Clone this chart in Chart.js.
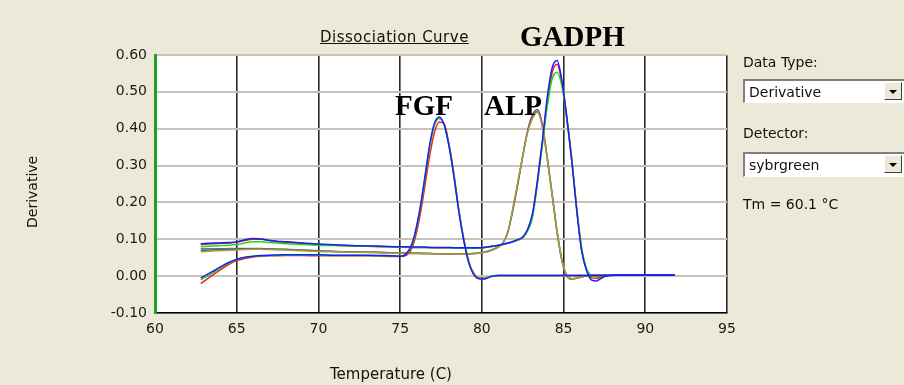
<!DOCTYPE html>
<html>
<head>
<meta charset="utf-8">
<script src="https://cdn.jsdelivr.net/npm/chart.js@4/dist/chart.umd.min.js"></script>
<style>
  body { margin: 0; background: #ece9d8; }
  #wrap { position: relative; width: 904px; height: 385px; overflow: hidden; font-family: "DejaVu Sans", sans-serif; color: #111; }
  .t { position: absolute; white-space: nowrap; font-size: 14px; line-height: 16px; }
  .big { position: absolute; white-space: nowrap; font-family: "Liberation Serif", serif; font-weight: bold; font-size: 29px; line-height: 29px; color: #000; }
  .box { position: absolute; left: 743px; width: 170px; background: #fff; border-top: 2px solid #808080; border-left: 2px solid #808080; border-bottom: 1px solid #fff; box-sizing: border-box; }
  .box span { position: absolute; left: 4px; top: 3px; font-size: 14px; line-height: 16px; }
  .btn { position: absolute; left: 139px; top: 1px; width: 18px; height: 18px; background: #ece9d8; border-right: 1px solid #404040; border-bottom: 1px solid #404040; border-top: 1px solid #fff; border-left: 1px solid #fff; box-sizing: border-box; }
  .btn i { position: absolute; left: 4px; top: 7px; border-left: 4px solid transparent; border-right: 4px solid transparent; border-top: 4px solid #000; }
</style>
</head>
<body>
<div id="wrap">
  <canvas id="myChart" width="904" height="385"></canvas>
  <div class="t" style="left:320px;top:29px;font-size:15px;letter-spacing:0.5px;text-decoration:underline;">Dissociation Curve</div>
  <div class="big" style="left:520px;top:22px;">GADPH</div>
  <div class="big" style="left:395px;top:91px;">FGF</div>
  <div class="big" style="left:484px;top:91px;">ALP</div>
  <div class="t" style="left:-4px;top:184px;width:72px;text-align:center;transform:rotate(-90deg);">Derivative</div>
  <div class="t" style="left:330px;top:366px;font-size:15px;">Temperature (C)</div>
  <div class="t" style="left:743px;top:54px;">Data Type:</div>
  <div class="box" style="top:79px;height:24px;"><span>Derivative</span><div class="btn"><i></i></div></div>
  <div class="t" style="left:743px;top:125px;">Detector:</div>
  <div class="box" style="top:152px;height:25px;"><span>sybrgreen</span><div class="btn"><i></i></div></div>
  <div class="t" style="left:743px;top:196px;">Tm = 60.1 °C</div>
</div>
<script>
const temps = [62.8, 63.5, 64.0, 64.5, 65.0, 65.5, 66.0, 66.5, 67.0, 68.0, 69.0, 70.0, 71.0, 72.0, 73.0, 74.0, 75.0,
  75.4, 75.8, 76.2, 76.5, 76.8, 77.1, 77.4, 77.7, 78.0, 78.3, 78.6, 78.9, 79.2, 79.5, 79.8,
  80.1, 80.4, 80.7, 81.0, 81.3, 81.6, 81.9, 82.2, 82.5, 82.8, 83.1, 83.4, 83.7, 84.0, 84.3, 84.6, 84.9,
  85.2, 85.5, 85.8, 86.1, 86.4, 86.7, 87.0, 87.3, 87.6, 88.0, 89.0, 90.0, 91.0, 91.8];

const fgfBlue = [-0.005, 0.012, 0.025, 0.037, 0.046, 0.051, 0.054, 0.056, 0.057, 0.058, 0.058, 0.058, 0.057, 0.057, 0.057, 0.056, 0.054,
  0.062, 0.098, 0.18, 0.265, 0.355, 0.415, 0.432, 0.41, 0.35, 0.268, 0.172, 0.095, 0.036, 0.004, -0.007,
  -0.008, -0.004, 0.0, 0.002, 0.002, 0.002, 0.002, 0.002, 0.002, 0.002, 0.002, 0.002, 0.002, 0.002, 0.002, 0.002, 0.002,
  0.002, 0.002, 0.002, 0.002, 0.002, 0.002, 0.002, 0.002, 0.002, 0.003, 0.003, 0.003, 0.003, 0.003];
const fgfGreen = [-0.01, 0.008, 0.022, 0.035, 0.045, 0.05, 0.053, 0.055, 0.056, 0.057, 0.057, 0.057, 0.056, 0.056, 0.056, 0.055, 0.054,
  0.06, 0.094, 0.175, 0.258, 0.348, 0.41, 0.428, 0.41, 0.352, 0.27, 0.174, 0.097, 0.037, 0.006, -0.006,
  -0.007, -0.003, 0.001, 0.002, 0.002, 0.002, 0.002, 0.002, 0.002, 0.002, 0.002, 0.002, 0.002, 0.002, 0.002, 0.002, 0.002,
  0.002, 0.002, 0.002, 0.002, 0.002, 0.002, 0.002, 0.002, 0.002, 0.003, 0.003, 0.003, 0.003, 0.003];
const fgfRed = [-0.02, 0.002, 0.017, 0.031, 0.042, 0.048, 0.052, 0.054, 0.055, 0.056, 0.056, 0.055, 0.055, 0.055, 0.055, 0.054, 0.053,
  0.057, 0.085, 0.16, 0.24, 0.325, 0.39, 0.418, 0.412, 0.356, 0.274, 0.178, 0.1, 0.04, 0.008, -0.005,
  -0.006, -0.003, 0.001, 0.002, 0.002, 0.002, 0.002, 0.002, 0.002, 0.002, 0.002, 0.002, 0.002, 0.002, 0.002, 0.002, 0.002,
  0.002, 0.002, 0.002, 0.002, 0.002, 0.002, 0.002, 0.002, 0.002, 0.003, 0.003, 0.003, 0.003, 0.003];

const gadphBlue = [0.088, 0.09, 0.09, 0.091, 0.093, 0.099, 0.102, 0.101, 0.097, 0.093, 0.09, 0.087, 0.085, 0.083, 0.082, 0.081, 0.08,
  0.08, 0.079, 0.079, 0.079, 0.078, 0.078, 0.078, 0.078, 0.078, 0.077, 0.077, 0.077, 0.077, 0.077, 0.077,
  0.078, 0.08, 0.082, 0.084, 0.087, 0.09, 0.094, 0.099, 0.106, 0.127, 0.17, 0.26, 0.365, 0.485, 0.565, 0.585, 0.53,
  0.43, 0.314, 0.18, 0.07, 0.016, -0.01, -0.013, -0.006, 0.0, 0.002, 0.003, 0.003, 0.003, 0.003];
const gadphGreen = [0.08, 0.082, 0.083, 0.084, 0.086, 0.09, 0.093, 0.093, 0.091, 0.088, 0.086, 0.084, 0.083, 0.082, 0.081, 0.08, 0.079,
  0.079, 0.078, 0.078, 0.078, 0.077, 0.077, 0.077, 0.077, 0.077, 0.076, 0.076, 0.076, 0.076, 0.076, 0.076,
  0.077, 0.079, 0.081, 0.083, 0.086, 0.089, 0.093, 0.098, 0.104, 0.123, 0.16, 0.25, 0.355, 0.46, 0.535, 0.553, 0.515,
  0.425, 0.315, 0.185, 0.078, 0.02, 0.002, -0.001, 0.001, 0.002, 0.003, 0.003, 0.003, 0.003, 0.003];
const gadphRed = [0.086, 0.088, 0.089, 0.09, 0.092, 0.097, 0.1, 0.1, 0.097, 0.092, 0.089, 0.086, 0.084, 0.082, 0.081, 0.08, 0.079,
  0.079, 0.078, 0.078, 0.078, 0.078, 0.077, 0.077, 0.077, 0.077, 0.077, 0.077, 0.076, 0.076, 0.076, 0.076,
  0.077, 0.079, 0.081, 0.083, 0.086, 0.089, 0.093, 0.098, 0.105, 0.125, 0.165, 0.255, 0.362, 0.47, 0.552, 0.575, 0.525,
  0.43, 0.318, 0.185, 0.076, 0.018, -0.004, -0.006, -0.002, 0.001, 0.003, 0.003, 0.003, 0.003, 0.003];

const alpOlive = [0.066, 0.068, 0.069, 0.07, 0.071, 0.072, 0.073, 0.073, 0.072, 0.071, 0.069, 0.067, 0.066, 0.065, 0.064, 0.063, 0.062,
  0.062, 0.061, 0.061, 0.061, 0.061, 0.06, 0.06, 0.06, 0.06, 0.06, 0.06, 0.06, 0.06, 0.061, 0.062,
  0.064, 0.067, 0.072, 0.079, 0.09, 0.12, 0.185, 0.255, 0.325, 0.39, 0.428, 0.445, 0.405, 0.318, 0.222, 0.122, 0.045,
  0.002, -0.007, -0.006, -0.002, 0.001, 0.002, 0.003, 0.003, 0.003, 0.003, 0.003, 0.003, 0.003, 0.003];
const alpPurple = [0.07, 0.071, 0.072, 0.072, 0.073, 0.074, 0.074, 0.074, 0.073, 0.072, 0.07, 0.068, 0.067, 0.066, 0.065, 0.064, 0.063,
  0.063, 0.062, 0.062, 0.062, 0.062, 0.061, 0.061, 0.061, 0.061, 0.061, 0.061, 0.061, 0.061, 0.062, 0.063,
  0.065, 0.068, 0.073, 0.08, 0.091, 0.122, 0.18, 0.25, 0.326, 0.395, 0.437, 0.452, 0.412, 0.322, 0.222, 0.12, 0.042,
  0.0, -0.008, -0.006, -0.002, 0.001, 0.002, 0.003, 0.003, 0.003, 0.003, 0.003, 0.003, 0.003, 0.003];
const alpTeal = [0.074, 0.074, 0.074, 0.075, 0.075, 0.075, 0.075, 0.075, 0.074, 0.073, 0.071, 0.069, 0.067, 0.066, 0.065, 0.064, 0.063,
  0.062, 0.062, 0.062, 0.061, 0.061, 0.061, 0.06, 0.06, 0.06, 0.06, 0.06, 0.06, 0.061, 0.061, 0.062,
  0.064, 0.067, 0.072, 0.079, 0.09, 0.121, 0.182, 0.252, 0.325, 0.392, 0.432, 0.447, 0.408, 0.32, 0.222, 0.121, 0.043,
  0.001, -0.007, -0.006, -0.002, 0.001, 0.002, 0.003, 0.003, 0.003, 0.003, 0.003, 0.003, 0.003, 0.003];

const yTicks = ["-0.10", "0.00", "0.10", "0.20", "0.30", "0.40", "0.50", "0.60"];
const xTicks = [60, 65, 70, 75, 80, 85, 90, 95];

function series(vals, color) {
  return {
    data: temps.map((t, i) => ({ x: t, y: vals[i] })),
    borderColor: color,
    borderWidth: 1.5,
    pointRadius: 0,
    cubicInterpolationMode: "monotone",
    fill: false,
  };
}

const plotBg = {
  id: "plotBg",
  beforeDraw(chart) {
    const a = chart.chartArea;
    const ctx = chart.ctx;
    ctx.save();
    ctx.fillStyle = "#ffffff";
    ctx.fillRect(a.left, a.top, a.right - a.left, a.bottom - a.top);
    ctx.restore();
  },
};

const tickFont = { family: "DejaVu Sans", size: 14 };

const ctx = document.getElementById("myChart").getContext("2d");
const myChart = new Chart(ctx, {
  type: "line",
  data: {
    datasets: [
      series(gadphBlue, "#1c1cff"),
      series(fgfBlue, "#1c1cff"),
      series(gadphGreen, "#10e010"),
      series(fgfGreen, "#10e010"),
      series(gadphRed, "#ff1c1c"),
      series(fgfRed, "#ff1c1c"),
      series(alpOlive, "#a3a336"),
      series(alpPurple, "#8a3a8a"),
      series(alpTeal, "#3a9090"),
    ],
  },
  options: {
    responsive: false,
    animation: false,
    layout: { padding: { top: 55, right: 177, left: 0, bottom: 0 } },
    plugins: { legend: { display: false }, tooltip: { enabled: false } },
    scales: {
      x: {
        type: "linear",
        min: 60,
        max: 95,
        afterBuildTicks: (s) => { s.ticks = xTicks.map((v) => ({ value: v })); },
        afterFit: (s) => { s.height = 72; },
        grid: { color: "#2a2a2a", lineWidth: 1.6, drawTicks: false },
        border: { color: "#000", width: 1.6 },
        ticks: { font: tickFont, color: "#1a1a1a", padding: 8, maxRotation: 0, callback: (v) => String(v) },
      },
      y: {
        min: -0.1,
        max: 0.6,
        afterBuildTicks: (s) => { s.ticks = yTicks.map((v) => ({ value: parseFloat(v) })); },
        afterFit: (s) => { s.width = 155; },
        grid: { color: "#c8c3b4", lineWidth: 2, drawTicks: false },
        border: { color: "#22a022", width: 3 },
        ticks: { font: tickFont, color: "#1a1a1a", padding: 8, callback: (v) => yTicks.find((t) => parseFloat(t) === v) || v.toFixed(2) },
      },
    },
  },
  plugins: [plotBg],
});
</script>
</body>
</html>
